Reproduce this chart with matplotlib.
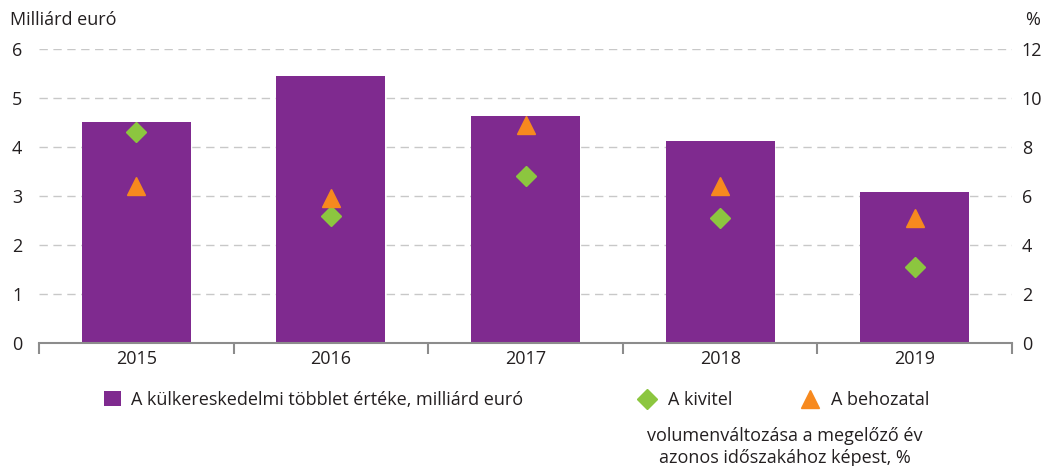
import matplotlib.pyplot as plt
import numpy as np

# Data
years = ['2015', '2016', '2017', '2018', '2019']
surplus = [4.51, 5.45, 4.63, 4.12, 3.08]      # milliard euro (left axis)
export_vol = [8.6, 5.2, 6.8, 5.1, 3.1]        # % (right axis)
import_vol = [6.4, 5.9, 8.9, 6.4, 5.1]        # % (right axis)

purple = '#7f2a8f'
green = '#8cc63f'
orange = '#f7891e'
txt = '#231f20'

plt.rcParams['font.family'] = ['Open Sans', 'DejaVu Sans']
plt.rcParams['font.size'] = 13

fig = plt.figure(figsize=(10.45, 4.66), dpi=100)
ax = fig.add_axes([39 / 1045, 1 - 343 / 466, (1012 - 39) / 1045, (343 - 49) / 466])
ax2 = ax.twinx()

x = np.arange(len(years))
bars = ax.bar(x, surplus, width=0.56, color=purple, zorder=2)
ax.set_ylim(0, 6)
ax.set_xlim(-0.5, len(years) - 0.5)
ax.set_yticks(range(0, 7))
ax.yaxis.grid(True, linestyle=(0, (6, 4)), color='#c8c8c8', linewidth=1, zorder=0)
ax.set_axisbelow(True)

# x axis: ticks between categories, labels at centres
ax.set_xticks(np.arange(-0.5, len(years)), minor=False)
ax.set_xticklabels([])
ax.set_xticks(x, minor=True)
ax.set_xticklabels(years, minor=True)
ax.tick_params(axis='x', which='major', length=8, width=1.5, color='#8c8c8c', direction='out')
ax.tick_params(axis='x', which='minor', length=0, pad=5, labelcolor=txt)
ax.tick_params(axis='y', length=0, pad=12, labelcolor=txt)

for s in ['top', 'left', 'right']:
    ax.spines[s].set_visible(False)
    ax2.spines[s].set_visible(False)
ax2.spines['bottom'].set_visible(False)
ax.spines['bottom'].set_color('#8c8c8c')
ax.spines['bottom'].set_linewidth(1.5)

ex, = ax2.plot(x, export_vol, linestyle='none', marker='D', markersize=10,
               color=green, zorder=3)
im, = ax2.plot(x, import_vol, linestyle='none', marker='^', markersize=13,
               color=orange, zorder=3)
ax2.set_ylim(0, 12)
ax2.set_yticks(range(0, 13, 2))
ax2.tick_params(axis='y', length=0, pad=7, labelcolor=txt)

fig.text(10 / 1045, 1 - 20 / 466, 'Milliárd euró', ha='left', va='center', color=txt)
fig.text(1040 / 1045, 1 - 20 / 466, '%', ha='right', va='center', color=txt)

# legend
fig.legend(handles=[bars], labels=['A külkereskedelmi többlet értéke, milliárd euró'],
           loc='center left', bbox_to_anchor=(88 / 1045, 1 - 400 / 466), frameon=False,
           handlelength=0.9, handleheight=0.9, handletextpad=0.6, labelcolor=txt)
fig.legend(handles=[ex, im], labels=['A kivitel', 'A behozatal'], ncol=2,
           loc='center left', bbox_to_anchor=(617 / 1045, 1 - 400 / 466), frameon=False,
           handlelength=1.5, handletextpad=0.4, columnspacing=3.6, labelcolor=txt)
fig.text(785 / 1045, 1 - 436 / 466, 'volumenváltozása a megelőző év', ha='center', va='center', color=txt)
fig.text(785 / 1045, 1 - 458 / 466, 'azonos időszakához képest, %', ha='center', va='center', color=txt)

fig.savefig('out.png', dpi=100)
